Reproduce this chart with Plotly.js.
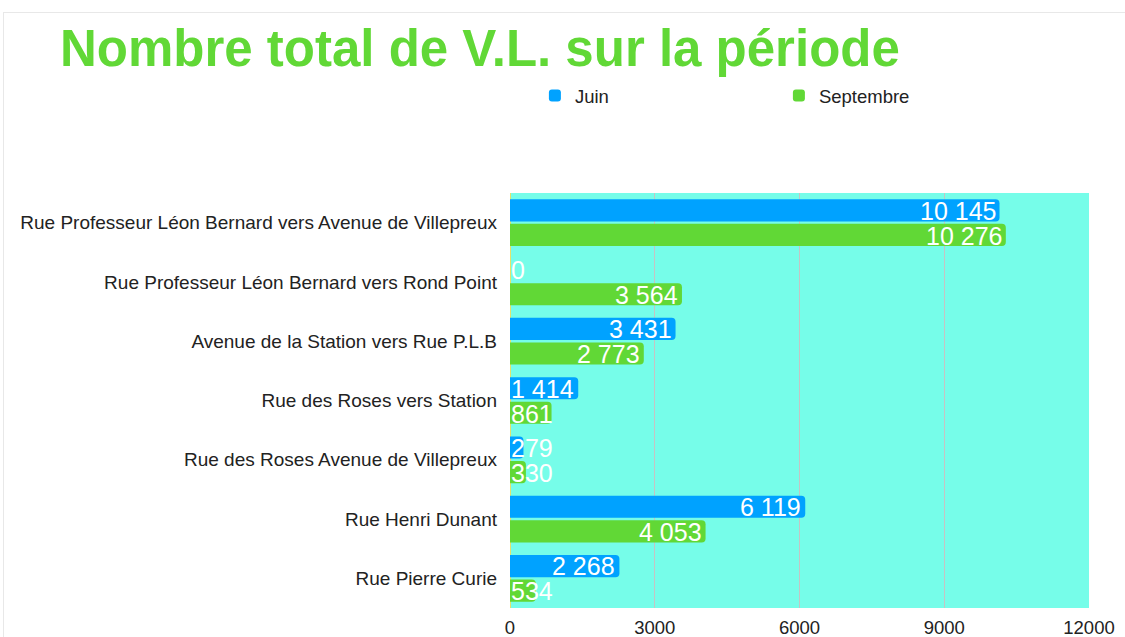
<!DOCTYPE html>
<html>
<head>
<meta charset="utf-8">
<script src="https://cdn.plot.ly/plotly-3.0.1.min.js"></script>
<style>
  html, body { margin: 0; padding: 0; background: #fff; }
  #chart { width: 1125px; height: 637px; position: absolute; left: 0; top: 0; }
  #frame { position: absolute; left: 3px; top: 12px; width: 1122px; height: 625px;
           border-top: 1px solid #e8e8e8; border-left: 1px solid #e8e8e8; pointer-events: none; }
</style>
</head>
<body>
<div id="chart"></div>
<div id="frame"></div>
<script>
const categories = [
  "Rue Professeur Léon Bernard vers Avenue de Villepreux",
  "Rue Professeur Léon Bernard vers Rond Point",
  "Avenue de la Station vers Rue P.L.B",
  "Rue des Roses vers Station",
  "Rue des Roses Avenue de Villepreux",
  "Rue Henri Dunant",
  "Rue Pierre Curie"
];
const juin = [10145, 0, 3431, 1414, 279, 6119, 2268];
const septembre = [10276, 3564, 2773, 861, 330, 4053, 534];
const seriesNames = ["Juin", "Septembre"];
const xTicks = [0, 3000, 6000, 9000, 12000];

const colors = ["#00A2FF", "#61D836"];
const margin = {l: 510, r: 36, t: 193, b: 29};
const xMax = 12000;
const plotW = 1125 - margin.l - margin.r;
const labelFont = 25;

function fmt(v) {
  return String(v).replace(/\B(?=(\d{3})+(?!\d))/g, " ");
}
function textWidth(s) {
  let w = 0;
  for (const ch of s) w += (ch === " " ? 0.278 : 0.556) * labelFont;
  return w;
}

const traces = [juin, septembre].map((vals, i) => ({
  type: "bar",
  orientation: "h",
  name: seriesNames[i],
  y: categories,
  x: vals,
  marker: {color: colors[i], cornerradius: 4},
  hoverinfo: "x+name"
}));

const annotations = [];
[juin, septembre].forEach((vals, i) => {
  vals.forEach((v, j) => {
    const t = fmt(v);
    const barPx = v * plotW / xMax;
    const fits = barPx >= textWidth(t) + 4;
    annotations.push({
      x: fits ? v : 0,
      y: categories[j],
      xref: "x", yref: "y",
      text: t,
      showarrow: false,
      xanchor: fits ? "right" : "left",
      yanchor: "middle",
      xshift: fits ? -2 : -1,
      yshift: i === 0 ? 12 : -13,
      font: {family: "Liberation Sans, Arial, sans-serif", size: labelFont, color: "#ffffff"}
    });
  });
});

const layout = {
  width: 1125,
  height: 637,
  margin: margin,
  paper_bgcolor: "rgba(0,0,0,0)",
  plot_bgcolor: "#76FDE9",
  font: {family: "Liberation Sans, Arial, sans-serif", size: 19, color: "#222"},
  title: {
    text: "Nombre total de V.L. sur la période",
    font: {family: "Liberation Sans, Arial, sans-serif", size: 51, color: "#61D836", weight: "bold"},
    xref: "container", yref: "container",
    x: 60 / 1125, xanchor: "left",
    y: 1 - 48 / 637, yanchor: "middle"
  },
  barmode: "group",
  bargap: 0.17,
  bargroupgap: 0.1,
  showlegend: true,
  legend: {
    orientation: "h",
    x: 0.043, xanchor: "left",
    y: 1.234, yanchor: "middle",
    entrywidth: 199, entrywidthmode: "pixels",
    font: {size: 18.5, color: "#222"},
    traceorder: "normal",
    bgcolor: "rgba(0,0,0,0)"
  },
  xaxis: {
    range: [0, xMax],
    tickvals: xTicks,
    ticktext: xTicks.map(String),
    showgrid: true,
    gridcolor: "#c4c4c4",
    gridwidth: 1,
    zeroline: true,
    zerolinecolor: "#e6e26a",
    zerolinewidth: 1,
    ticks: "",
    ticklabelstandoff: 6,
    tickfont: {size: 18.5, color: "#222"},
    fixedrange: true
  },
  yaxis: {
    autorange: "reversed",
    ticks: "",
    ticklabelstandoff: 12,
    tickfont: {size: 19, color: "#222"},
    showgrid: false,
    zeroline: false,
    fixedrange: true
  },
  annotations: annotations
};

Plotly.newPlot("chart", traces, layout, {displayModeBar: false, staticPlot: true});
</script>
</body>
</html>
